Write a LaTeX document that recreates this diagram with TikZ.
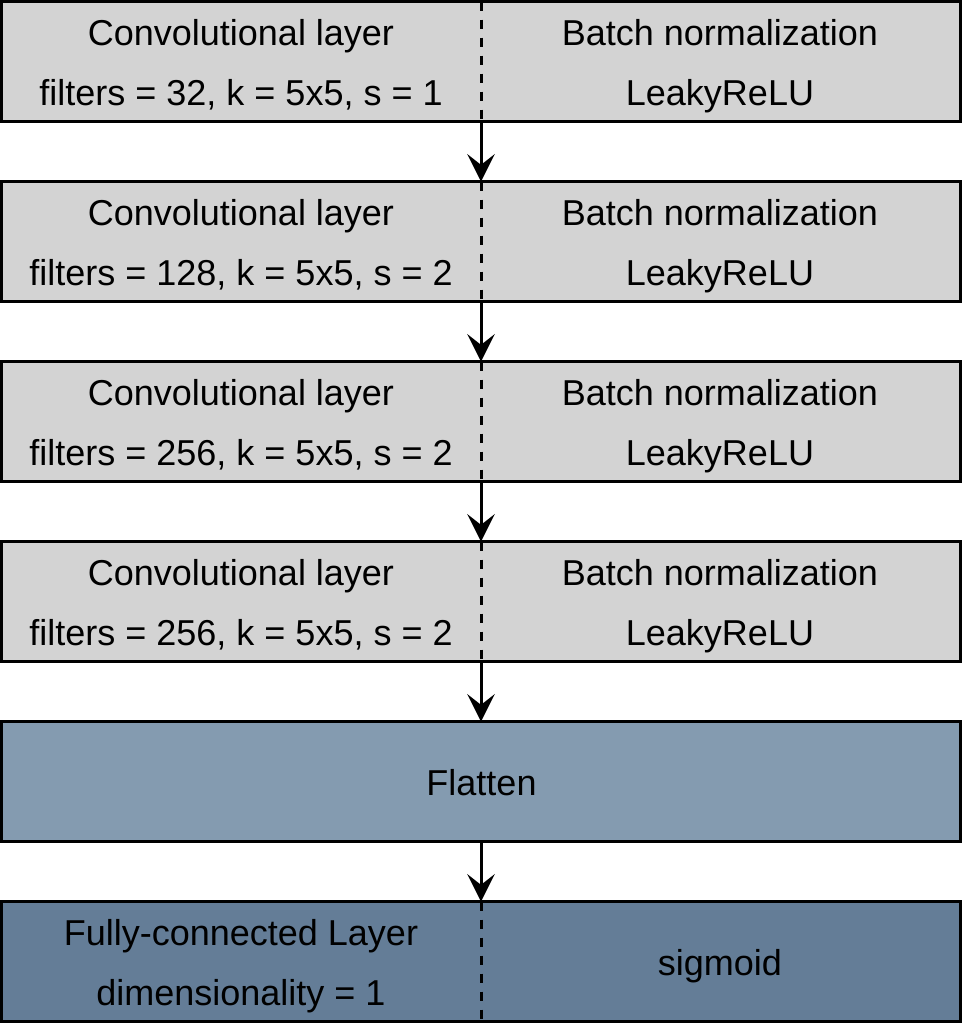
\documentclass[tikz,border=0pt]{standalone}
\usepackage{fontspec}
\setmainfont{Liberation Sans}
\usetikzlibrary{arrows.meta}
\definecolor{boxgray}{HTML}{D3D3D3}
\definecolor{flatblue}{HTML}{849BB0}
\definecolor{fcblue}{HTML}{647D97}
\begin{document}
\begin{tikzpicture}[x=0.75pt,y=-0.75pt,
  layer/.style={draw=black, line width=2.25pt, minimum width=719.25pt, minimum height=89.625pt, inner sep=0pt, outer sep=0pt, anchor=north west},
  lbl/.style={font=\fontsize{27}{32}\selectfont, anchor=base, inner sep=0pt},
  divider/.style={line width=2.25pt, dash pattern=on 6.75pt off 6.75pt},
  flow/.style={line width=2.25pt, -{Stealth[length=20.5pt,width=20.5pt,inset=8pt]}}]
\useasboundingbox (0,0) rectangle (963,1026);
% boxes
\node[layer, fill=boxgray] (b1) at (1.5,1.5) {};
\node[layer, fill=boxgray] (b2) at (1.5,181.5) {};
\node[layer, fill=boxgray] (b3) at (1.5,361.5) {};
\node[layer, fill=boxgray] (b4) at (1.5,541.5) {};
\node[layer, fill=flatblue] (b5) at (1.5,721.5) {};
\node[layer, fill=fcblue] (b6) at (1.5,901.5) {};
% dividers
\draw[divider] (b1.north) -- (b1.south);
\draw[divider] (b2.north) -- (b2.south);
\draw[divider] (b3.north) -- (b3.south);
\draw[divider] (b4.north) -- (b4.south);
\draw[divider] (b6.north) -- (b6.south);
% labels
\node[lbl] (t1a) at (241,45) {Convolutional layer};
\node[lbl] (t1b) at (241,105) {filters = 32, k = 5x5, s = 1};
\node[lbl] (t1c) at (720,45) {Batch normalization};
\node[lbl] (t1d) at (720,105) {LeakyReLU};
\node[lbl] (t2a) at (241,225) {Convolutional layer};
\node[lbl] (t2b) at (241,285) {filters = 128, k = 5x5, s = 2};
\node[lbl] (t2c) at (720,225) {Batch normalization};
\node[lbl] (t2d) at (720,285) {LeakyReLU};
\node[lbl] (t3a) at (241,405) {Convolutional layer};
\node[lbl] (t3b) at (241,465) {filters = 256, k = 5x5, s = 2};
\node[lbl] (t3c) at (720,405) {Batch normalization};
\node[lbl] (t3d) at (720,465) {LeakyReLU};
\node[lbl] (t4a) at (241,585) {Convolutional layer};
\node[lbl] (t4b) at (241,645) {filters = 256, k = 5x5, s = 2};
\node[lbl] (t4c) at (720,585) {Batch normalization};
\node[lbl] (t4d) at (720,645) {LeakyReLU};
\node[lbl] (t5) at (481.5,795) {Flatten};
\node[lbl] (t6a) at (241,945) {Fully-connected Layer};
\node[lbl] (t6b) at (241,1005) {dimensionality = 1};
\node[lbl] (t6c) at (720,975) {sigmoid};
% arrows
\draw[flow] (b1.south) -- (b2.north);
\draw[flow] (b2.south) -- (b3.north);
\draw[flow] (b3.south) -- (b4.north);
\draw[flow] (b4.south) -- (b5.north);
\draw[flow] (b5.south) -- (b6.north);
\end{tikzpicture}
\end{document}
